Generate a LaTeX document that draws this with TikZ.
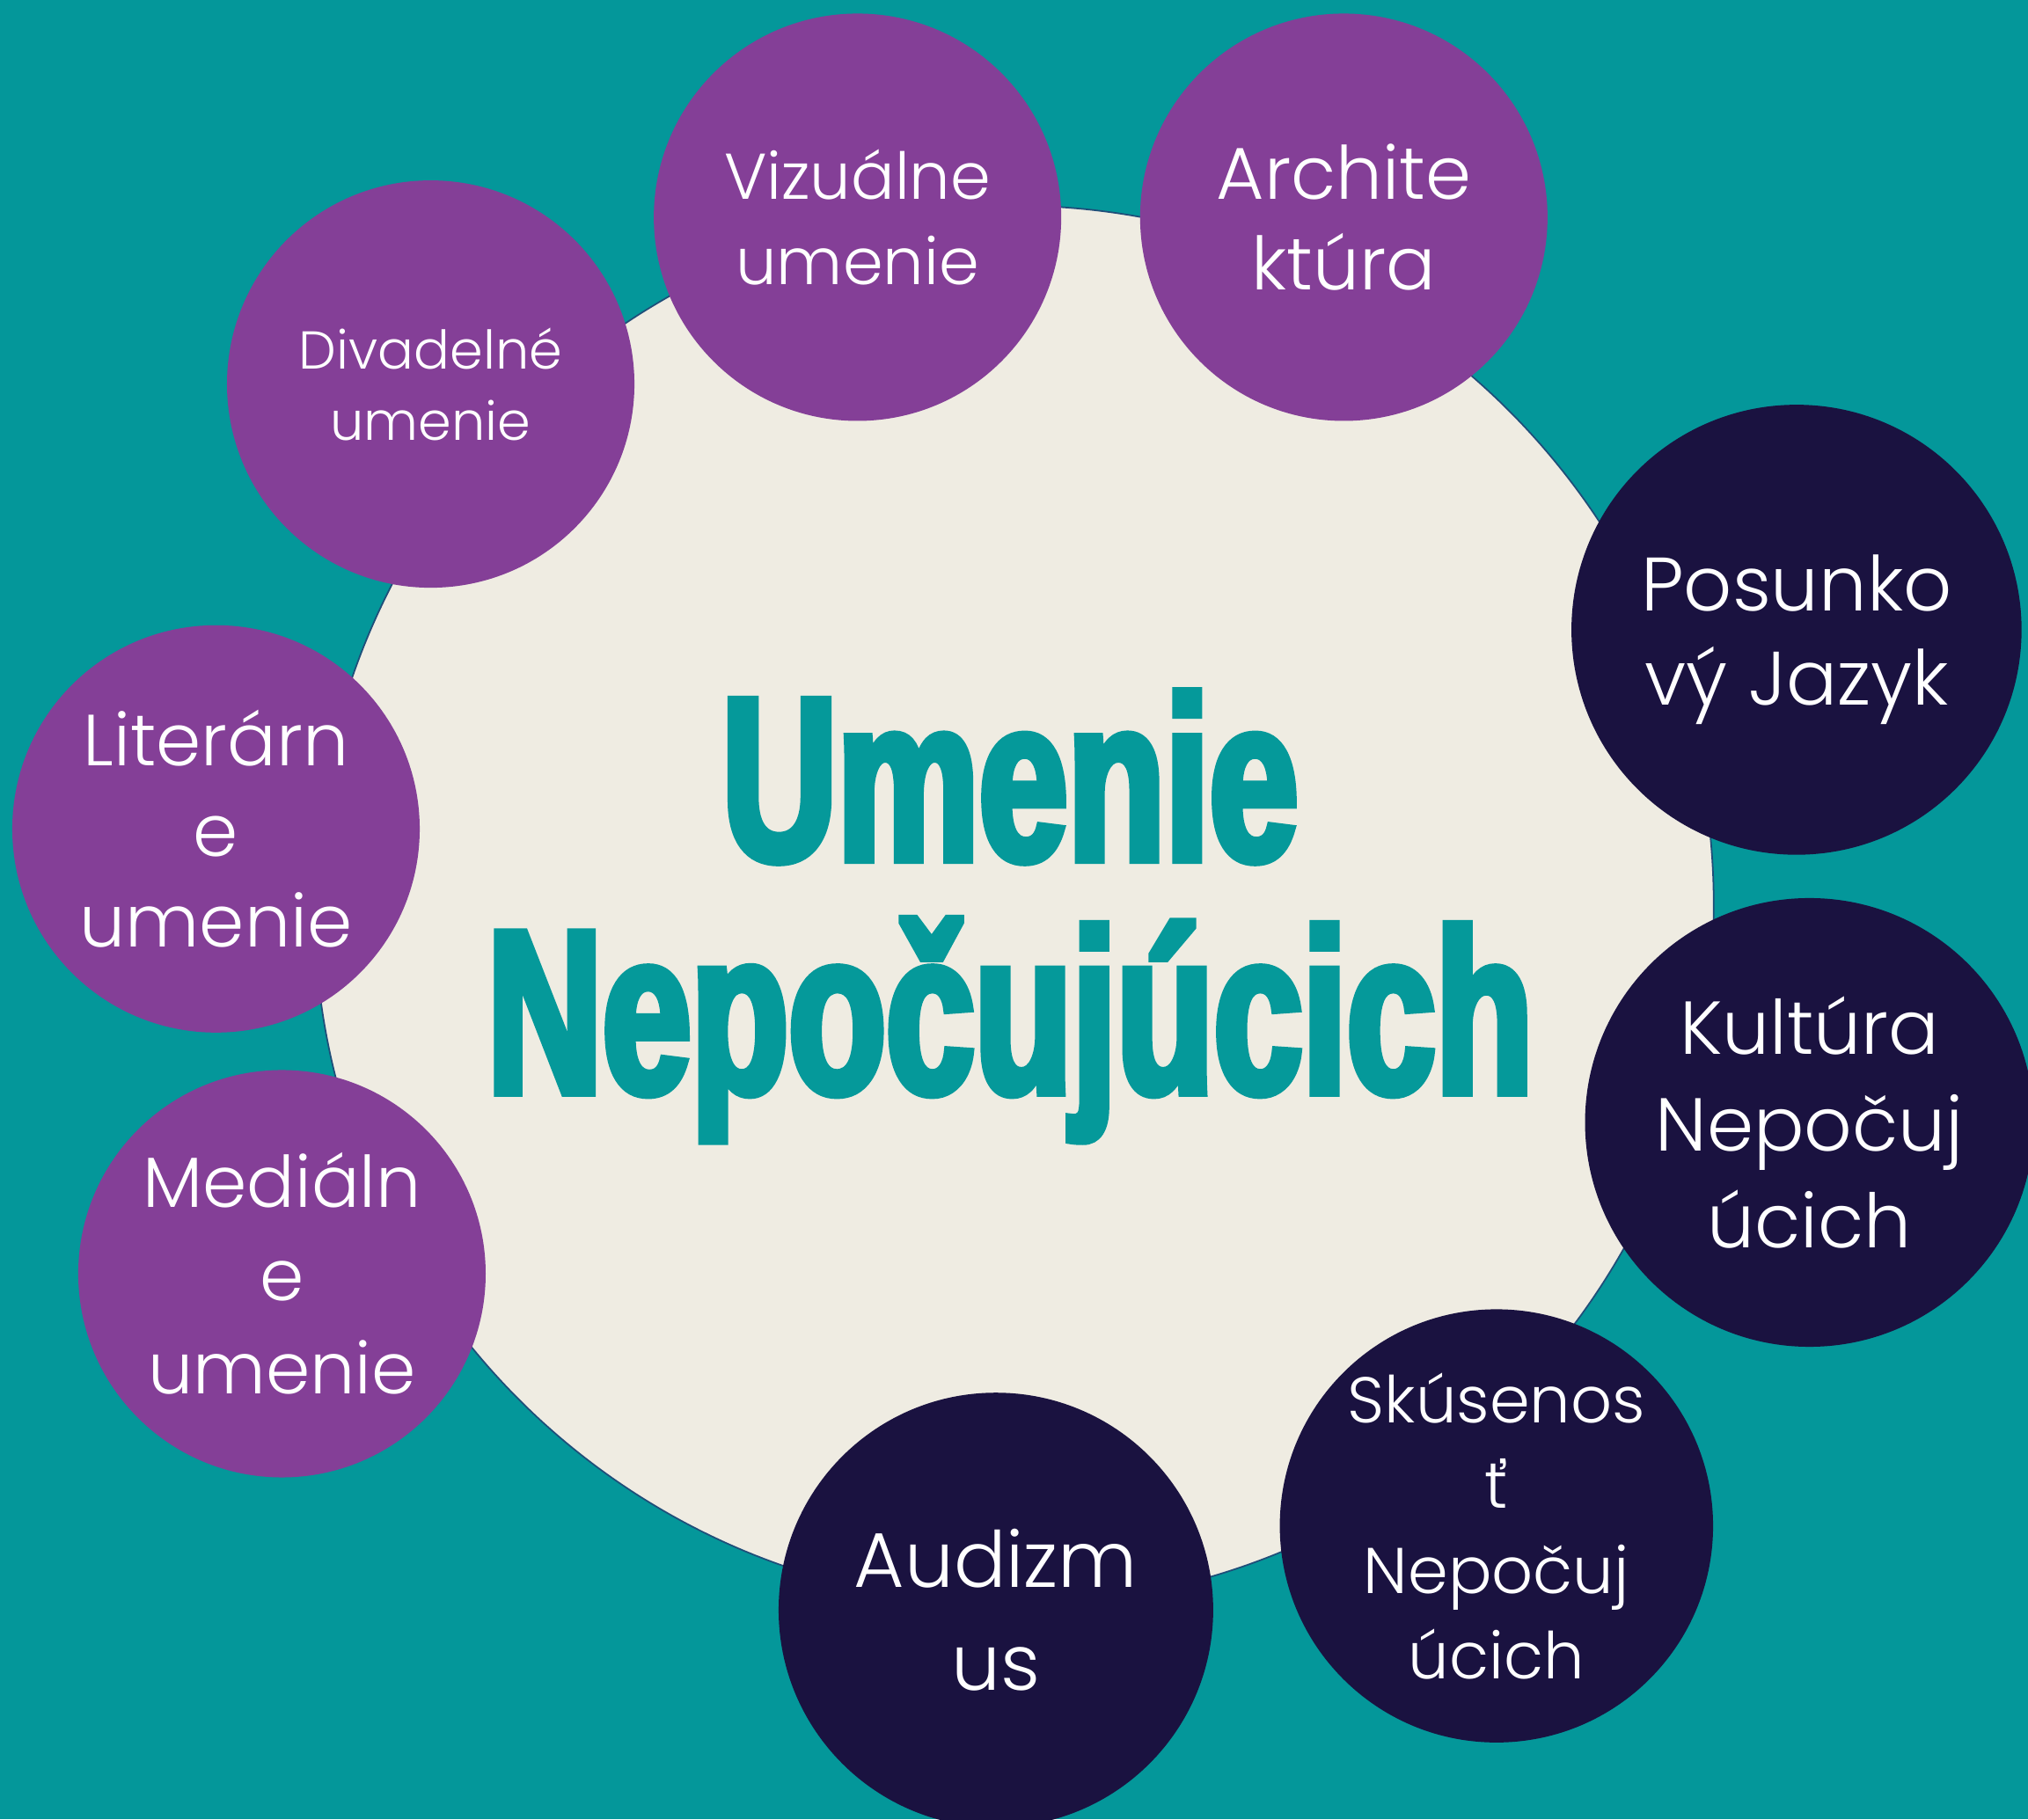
\documentclass[tikz,border=0pt]{standalone}
\usepackage{fontspec}
\newfontfamily\bubblefont{Poppins Light}
\newfontfamily\titlefont[FakeStretch=0.685,FakeBold=3.5]{Liberation Sans Bold}
\definecolor{bgteal}{HTML}{04979A}
\definecolor{titleteal}{HTML}{05999A}
\definecolor{artpurple}{HTML}{843F97}
\definecolor{deafnavy}{HTML}{1A1240}
\definecolor{cream}{HTML}{EFECE2}
\definecolor{rimblue}{HTML}{1F4E79}

\begin{document}
\begin{tikzpicture}[x=0.5pt,y=-0.5pt,
    bubble/.style={circle, inner sep=-60pt, text=white, align=center},
    artbubble/.style={bubble, fill=artpurple, minimum size=157.5pt},
    deafbubble/.style={bubble, fill=deafnavy}]
        \useasboundingbox (0,0) rectangle (1568,1406.8);
        \clip (0,0) rectangle (1568,1406.8);
        \fill[color=bgteal] (0,0) rectangle (1568,1406.8);
        % middle disc and title
        \node[circle, fill=cream, draw=rimblue, line width=0.6pt, minimum size=541pt] (hub) at (784,700) {};
        \node[anchor=base, text=titleteal, font=\titlefont\fontsize{90}{90}\selectfont] (titletop) at (781,665) {Umenie};
        \node[anchor=base, text=titleteal, font=\titlefont\fontsize{90}{90}\selectfont] (titlebottom) at (781,845) {Nepočujúcich};
        % art forms
        \node[artbubble, font=\bubblefont\fontsize{25}{33}\selectfont] (vizualne) at (663,168) {Vizuálne\\umenie};
        \node[artbubble, font=\bubblefont\fontsize{28.4}{35}\selectfont] (architektura) at (1039,168) {Archite\\ktúra};
        \node[artbubble, font=\bubblefont\fontsize{20.6}{27.5}\selectfont] (divadelne) at (333,297) {Divadelné\\umenie};
        \node[artbubble, font=\bubblefont\fontsize{28}{35}\selectfont] (literarne) at (167,641) {Literárn\\e\\umenie};
        \node[artbubble, font=\bubblefont\fontsize{27.5}{36}\selectfont] (medialne) at (218,985) {Mediáln\\e\\umenie};
        % deaf culture
        \node[deafbubble, minimum size=174pt, text depth=0pt, font=\bubblefont\fontsize{29.3}{36.5}\selectfont] (posunkovy) at (1389,487) {Posunko\\vý Jazyk};
        \node[deafbubble, minimum size=173.5pt, font=\bubblefont\fontsize{29}{37.5}\selectfont] (kultura) at (1399,868) {Kultúra\\Nepočuj\\úcich};
        \node[deafbubble, minimum size=167.5pt, font=\bubblefont\fontsize{25}{33}\selectfont] (skusenost) at (1157,1180) {Skúsenos\\ť\\Nepočuj\\úcich};
        \node[deafbubble, minimum size=168pt, font=\bubblefont\fontsize{30}{40}\selectfont] (audizmus) at (770,1245) {Audizm\\us};
\end{tikzpicture}
\end{document}
